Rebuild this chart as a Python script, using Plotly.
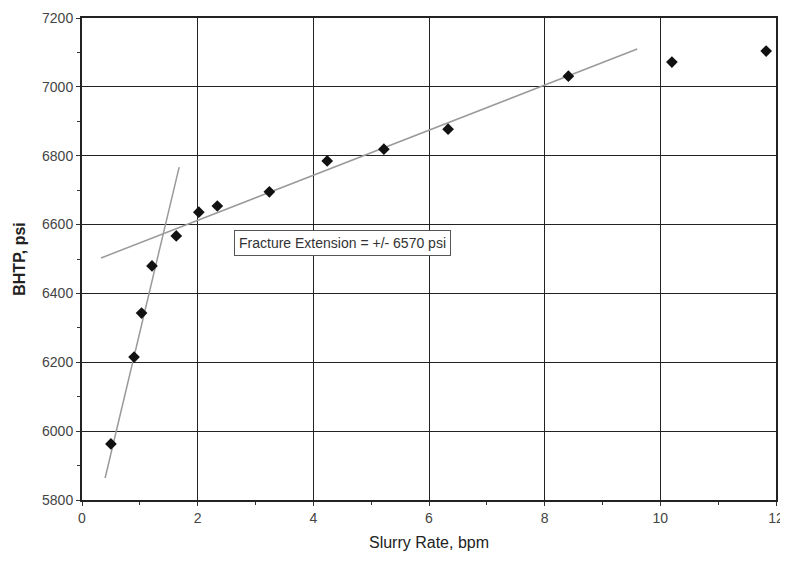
import plotly.graph_objects as go

# Data
slurry_rate = [0.50, 0.90, 1.03, 1.21, 1.63, 2.02, 2.34, 3.24, 4.24, 5.22, 6.33, 8.41, 10.2, 11.83]
bhtp = [5963, 6215, 6343, 6480, 6567, 6636, 6654, 6695, 6785, 6819, 6877, 7031, 7072, 7104]

# Trend lines (end points)
steep_x = [0.40, 1.68]
steep_y = [5864, 6767]
ext_x = [0.33, 9.60]
ext_y = [6503, 7110]

annotation_text = "Fracture Extension = +/- 6570 psi"
annotation_x = 4.5
annotation_y = 6546

fig = go.Figure()
line_style = dict(color="#9a9a9a", width=1.5)
fig.add_trace(go.Scatter(x=steep_x, y=steep_y, mode="lines", line=line_style, showlegend=False))
fig.add_trace(go.Scatter(x=ext_x, y=ext_y, mode="lines", line=line_style, showlegend=False))
fig.add_trace(go.Scatter(x=slurry_rate, y=bhtp, mode="markers",
                         marker=dict(symbol="diamond", size=9, color="#111111"),
                         showlegend=False))

fig.add_annotation(x=annotation_x, y=annotation_y, text=annotation_text, showarrow=False,
                   font=dict(family="Liberation Sans, Arial", size=14, color="#333333"),
                   bordercolor="#555555", borderwidth=1, borderpad=4, bgcolor="white")

axis_common = dict(showline=True, linecolor="#222222", linewidth=2, mirror=True,
                   gridcolor="#222222", gridwidth=1.4, zeroline=False, automargin=False,
                   ticks="outside", ticklen=4, tickcolor="#333333",
                   tickfont=dict(family="Liberation Sans, Arial", size=14, color="#444444"))

fig.update_xaxes(range=[0, 12], dtick=2, tick0=0,
                 title=dict(text="Slurry Rate, bpm",
                            font=dict(family="Liberation Sans, Arial", size=16, color="#222222"),
                            standoff=12),
                 minor=dict(dtick=1, ticks="outside", ticklen=3, tickcolor="#333333", showgrid=False),
                 **axis_common)
fig.update_yaxes(range=[5800, 7200], dtick=200, tick0=5800,
                 title=dict(text="<b>BHTP, psi</b>",
                            font=dict(family="Liberation Sans, Arial", size=16, color="#222222"),
                            standoff=12),
                 minor=dict(dtick=100, ticks="outside", ticklen=3, tickcolor="#333333", showgrid=False),
                 **axis_common)

# The page body adds an 8px offset, so the figure is sized and shifted accordingly
fig.update_layout(width=780, height=551, plot_bgcolor="white", paper_bgcolor="white",
                  margin=dict(l=74, r=12, t=10, b=59))

fig.write_html("out.html")
